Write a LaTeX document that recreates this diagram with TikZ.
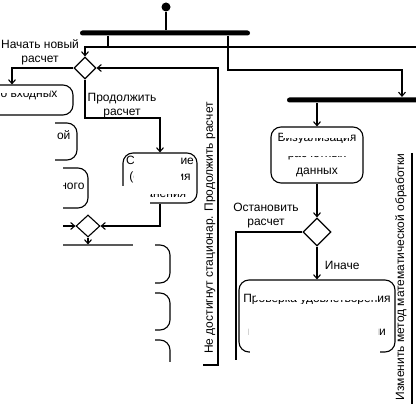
\documentclass[tikz,border=0pt]{standalone}
\usepackage{fontspec}
\setmainfont{Liberation Sans}
\usetikzlibrary{arrows.meta,shapes.geometric}

\begin{document}
\begin{tikzpicture}[x=1pt, y=-1pt,
        font=\fontsize{12}{14}\selectfont,
        line width=1.1pt,
        >={Straight Barb[length=4pt,width=7pt]},
        actbox/.style={rectangle, rounded corners=10pt, draw, align=center, inner sep=2pt, font=\fontsize{12}{16.5}\selectfont},
        decis/.style={diamond, draw, inner sep=0pt, minimum width=22pt, minimum height=22pt},
        forkbar/.style={rectangle, fill, inner sep=0pt, minimum height=5pt, rounded corners=2.5pt},
        whiteout/.style={fill=white}
        ]
  \useasboundingbox (0,0) rectangle (416,404);
  \clip (0,0) rectangle (416,404);

  % start and forks
  \node[circle, fill, inner sep=0pt, minimum size=9pt] (start) at (166,7) {};
  \node[forkbar, minimum width=170pt] (fork1) at (165,33) {};
  \node[forkbar, minimum width=160pt] (fork2) at (367,100) {};

  % decisions
  \node[decis] (newcalc) at (85,68) {};
  \node[decis, minimum width=24pt] (merge) at (88,226) {};
  \node[decis, minimum width=28pt, minimum height=28pt] (stopq) at (317,232) {};

  % activities
  \node[actbox, minimum width=105pt, minimum height=30pt] (input) at (20.5,100) {};
  \node[anchor=east, inner sep=0pt] (inputtxt) at (58,95) {о входных};
  \node[actbox, minimum width=100pt, minimum height=37pt] (initbox) at (27,141.5) {};
  \node[anchor=east, inner sep=0pt] (inittxt) at (71,135) {ой};
  \node[actbox, minimum width=110pt, minimum height=40pt] (methbox) at (33,188) {};
  \node[anchor=east, inner sep=0pt] (methtxt) at (85,186) {ного};
  \node[actbox, minimum width=74pt, minimum height=50pt] (store) at (160,178) {Сохранение\\(состояния\\хранения};
  \node[actbox, minimum width=140pt, minimum height=38pt] (step1) at (100,264) {};
  \node[actbox, minimum width=140pt, minimum height=37pt] (step2) at (100,311.5) {};
  \node[actbox, minimum width=140pt, minimum height=38pt] (step3) at (100,359) {};
  \node[actbox, minimum width=92pt, minimum height=56pt] (vis) at (317,155) {Визуализация\\расчетных\\данных};
  \node[actbox, minimum width=156pt, minimum height=72pt] (check) at (317,316) {Проверка удовлетворения\\критерию точности\\и погрешности итерации};

  % guards
  \node[align=center] (newlbl) at (40,52) {Начать новый\\расчет};
  \node[align=center] (contlbl) at (122,106) {Продолжить\\расчет};
  \node[align=center] (stoplbl) at (266,216) {Остановить\\расчет};
  \node[anchor=west] (elselbl) at (321,265) {Иначе};
  \node[rotate=90, inner sep=2pt] (looplbl) at (210,228) {Не достигнут стационар. Продолжить расчет};
  \node[rotate=90, inner sep=2pt] (chglbl) at (401,277) {Изменить метод математической обработки};

  % helper points
  \coordinate (j1) at (108,47);
  \coordinate (rtop) at (420,47);
  \coordinate (k1) at (228,70);
  \coordinate (k2) at (402,70);
  \coordinate (a1) at (12,68);
  \coordinate (b1) at (160,118);
  \coordinate (loopbot) at (218,365);
  \coordinate (loopstub) at (203,365);
  \coordinate (c1) at (63,226);
  \coordinate (stopend) at (236,360);
  \coordinate (chgtop) at (412,153);
  \coordinate (chgbot) at (412,410);

  % flows
  \draw (start) -- (start |- fork1.north);
  \draw (fork1.south -| j1) -- (j1);
  \draw[->] (rtop) -| (newcalc.north);
  \draw[->] (fork1.south -| k1) -- (k1) -- (k2) -- (fork2.north -| k2);
  \draw[->] (newcalc.west) -- (a1) -- (a1 |- input.north);
  \draw[->] (loopstub) -- (loopbot) |- (newcalc.east);
  \draw[->] (newcalc.south) |- (b1) -- (store.north);
  \draw[->] (store.south) |- (merge.east);
  \draw[->] (c1) -- (merge.west);
  \draw[->] (merge.south) -- (merge.south |- step1.north);
  \draw[->] (fork2.south -| vis.north) -- (vis.north);
  \draw[->] (vis.south) -- (stopq.north);
  \draw (stopq.west) -| (stopend);
  \draw[->] (stopq.south) -- (check.north);
  \draw (chgtop) -- (chgbot);

  % lost parts of the scan
  \fill[whiteout] (0,86.5) rectangle (50,93);
  \fill[whiteout] (0,118) rectangle (55,404);
  \fill[whiteout] (0,165) rectangle (63,404);
  \fill[whiteout] (134,155) rectangle (181,187);
  \fill[whiteout] (122,186) rectangle (150,206);
  \fill[whiteout] (150,187) rectangle (186,194);
  \fill[whiteout] (133,230) rectangle (155,404);
  \fill[whiteout] (60,246.5) rectangle (155,404);
  \fill[whiteout] (100,362) rectangle (200,404);
  \fill[whiteout] (283,129) rectangle (351,138.5);
  \fill[whiteout] (276,143) rectangle (358,156.5);
  \fill[whiteout] (256,289) rectangle (378,300);
  \fill[whiteout] (249,304) rectangle (378,345);
  \fill[whiteout] (250,345) rectangle (380,362);
\end{tikzpicture}
\end{document}
